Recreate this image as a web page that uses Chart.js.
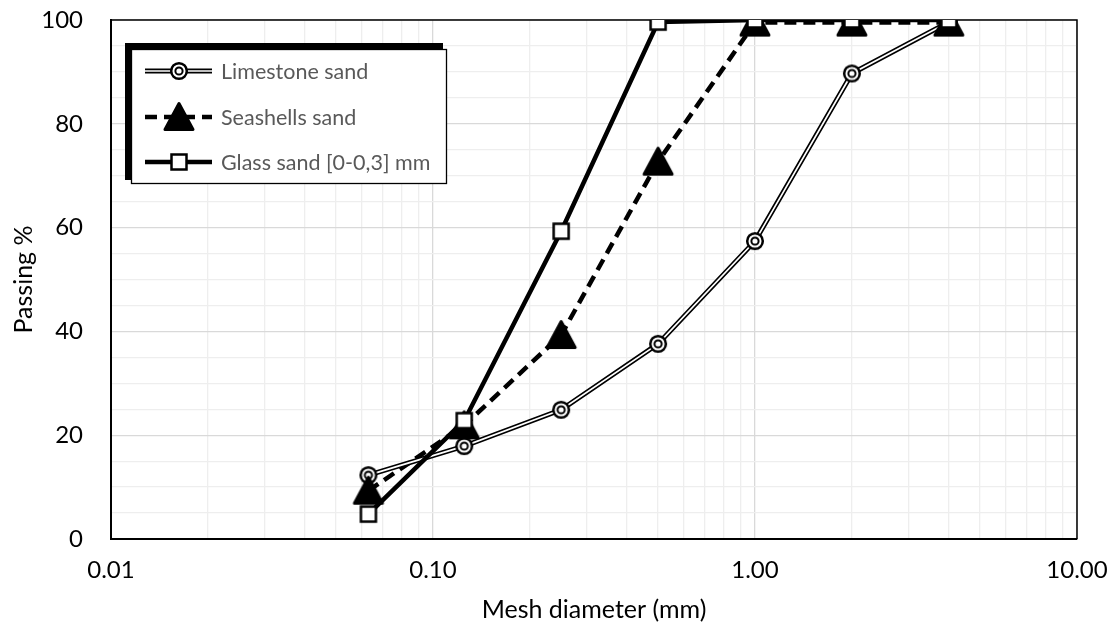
<!DOCTYPE html>
<html>
<head>
<meta charset="utf-8">
<script src="https://cdn.jsdelivr.net/npm/chart.js@4.4.1/dist/chart.umd.min.js"></script>
<style>
    html, body { margin: 0; padding: 0; background: #fff; }
    #wrap { width: 1109px; height: 635px; }
</style>
</head>
<body>
<div id="wrap"><canvas id="grading_chart"></canvas></div>
<script>
// sieve sizes (mm) and % passing
const meshSizes = [0.063, 0.125, 0.25, 0.5, 1, 2, 4];
const limestonePassing = [12.3, 17.9, 24.9, 37.6, 57.4, 89.7, 99.6];
const seashellsPassing = [9.3, 21.9, 39.3, 72.7, 99.5, 99.5, 99.5];
const glassPassing = [4.8, 22.8, 59.3, 99.6, 100, 100, 100];

const seriesNames = ['Limestone sand', 'Seashells sand', 'Glass sand [0-0,3] mm'];

const xTickValues = [0.01, 0.1, 1, 10];
const xTickLabels = ['0.01', '0.10', '1.00', '10.00'];
const yTickLabels = [0, 20, 40, 60, 80, 100];

const FONT = 'Lato';
const DASH = [12, 7];

function to_points(values) {
    var points = [];
    for (var i = 0; i < meshSizes.length; i++) {
        points.push({ x: meshSizes[i], y: values[i] });
    }
    return points;
}

// marker images, drawn once and used as pointStyle
function make_marker(kind) {
    var c = document.createElement('canvas');
    c.width = 34;
    c.height = 34;
    var ctx = c.getContext('2d');
    ctx.strokeStyle = '#000';
    ctx.fillStyle = '#fff';
    if (kind === 'ring') {
        ctx.lineWidth = 2.5;
        ctx.beginPath();
        ctx.arc(17, 17, 7.8, 0, Math.PI * 2);
        ctx.fill();
        ctx.stroke();
        ctx.lineWidth = 2;
        ctx.beginPath();
        ctx.arc(17, 17, 3.6, 0, Math.PI * 2);
        ctx.stroke();
    } else if (kind === 'triangle') {
        ctx.fillStyle = '#000';
        ctx.lineWidth = 3;
        ctx.lineJoin = 'round';
        ctx.beginPath();
        ctx.moveTo(17, 3.5);
        ctx.lineTo(31, 29.5);
        ctx.lineTo(3, 29.5);
        ctx.closePath();
        ctx.fill();
        ctx.stroke();
    } else {
        ctx.lineWidth = 2.5;
        ctx.fillRect(9.5, 9.5, 15, 15);
        ctx.strokeRect(9.5, 9.5, 15, 15);
    }
    return c;
}

const ringMarker = make_marker('ring');
const triangleMarker = make_marker('triangle');
const squareMarker = make_marker('square');

function is_major_x(value) {
    for (var i = 0; i < xTickValues.length; i++) {
        if (Math.abs(value - xTickValues[i]) / xTickValues[i] < 1e-6) return i;
    }
    return -1;
}

const plot_frame = {
    id: 'plot_frame',
    beforeDatasetsDraw(chart) {
        var a = chart.chartArea;
        var ctx = chart.ctx;
        ctx.save();
        ctx.strokeStyle = '#000';
        ctx.lineWidth = 1.5;
        ctx.beginPath();
        ctx.moveTo(a.left, a.top);
        ctx.lineTo(a.right, a.top);
        ctx.lineTo(a.right, a.bottom);
        ctx.stroke();
        ctx.restore();
    }
};

const legend_box = {
    id: 'legend_box',
    afterDraw(chart) {
        var ctx = chart.ctx;
        ctx.save();
        ctx.fillStyle = '#000';
        ctx.fillRect(125, 43, 318, 137);
        ctx.fillStyle = '#fff';
        ctx.fillRect(131, 49, 316, 135);
        ctx.strokeStyle = '#000';
        ctx.lineWidth = 1.3;
        ctx.strokeRect(131.5, 49.5, 315, 134);

        var rows = [71, 117, 162];
        var markers = [ringMarker, triangleMarker, squareMarker];
        for (var i = 0; i < rows.length; i++) {
            var y = rows[i];
            ctx.setLineDash(i === 1 ? DASH : []);
            ctx.strokeStyle = '#000';
            ctx.lineWidth = i === 0 ? 5 : 4.5;
            ctx.beginPath();
            ctx.moveTo(145, y);
            ctx.lineTo(212, y);
            ctx.stroke();
            if (i === 0) {
                ctx.strokeStyle = '#fff';
                ctx.lineWidth = 1.7;
                ctx.beginPath();
                ctx.moveTo(145, y);
                ctx.lineTo(212, y);
                ctx.stroke();
            }
            ctx.setLineDash([]);
            ctx.drawImage(markers[i], 179 - 17, y - 17);
            ctx.fillStyle = '#595959';
            ctx.font = '21.5px ' + FONT;
            ctx.textBaseline = 'middle';
            ctx.fillText(seriesNames[i], 221, y + 1);
        }
        ctx.restore();
    }
};

function create_chart() {
    const context = document.getElementById('grading_chart');
    new Chart(context, {
        type: 'line',
        data: {
            datasets: [
                // markers last series on top, as the spreadsheet draws them
                { label: seriesNames[2], data: to_points(glassPassing), showLine: false,
                  pointStyle: squareMarker, pointRadius: 9, order: 0 },
                { label: seriesNames[1], data: to_points(seashellsPassing), showLine: false,
                  pointStyle: triangleMarker, pointRadius: 15, order: 1 },
                { label: seriesNames[0], data: to_points(limestonePassing), showLine: false,
                  pointStyle: ringMarker, pointRadius: 9, order: 2 },
                { label: seriesNames[2] + ' line', data: to_points(glassPassing), borderColor: '#000',
                  borderWidth: 4.5, pointRadius: 0, order: 3 },
                { label: seriesNames[0] + ' core', data: to_points(limestonePassing), borderColor: '#fff',
                  borderWidth: 1.7, pointRadius: 0, order: 4 },
                { label: seriesNames[0] + ' line', data: to_points(limestonePassing), borderColor: '#000',
                  borderWidth: 5, pointRadius: 0, order: 5 },
                { label: seriesNames[1] + ' line', data: to_points(seashellsPassing), borderColor: '#000',
                  borderWidth: 4.5, borderDash: DASH, pointRadius: 0, order: 6 }
            ]
        },
        options: {
            responsive: true,
            maintainAspectRatio: false,
            animation: false,
            layout: { padding: { top: 20, right: 32, left: 0, bottom: 0 } },
            plugins: {
                legend: { display: false },
                tooltip: { enabled: false }
            },
            scales: {
                x: {
                    type: 'logarithmic',
                    min: 0.01,
                    max: 10,
                    afterBuildTicks: function(scale) {
                        var ticks = [];
                        for (var d = 0; d < xTickValues.length - 1; d++) {
                            for (var k = 1; k <= 9; k++) {
                                ticks.push({ value: xTickValues[d] * k });
                            }
                        }
                        ticks.push({ value: xTickValues[xTickValues.length - 1] });
                        scale.ticks = ticks;
                    },
                    afterFit: function(scale) {
                        scale.height = 96;
                        scale.paddingLeft = 0;
                        scale.paddingRight = 0;
                    },
                    grid: {
                        drawTicks: false,
                        lineWidth: 1.3,
                        color: function(c) {
                            return c.tick && is_major_x(c.tick.value) >= 0 ? '#d9d9d9' : '#eeeeee';
                        }
                    },
                    border: { color: '#000', width: 2 },
                    ticks: {
                        autoSkip: false,
                        maxRotation: 0,
                        padding: 17,
                        color: '#000',
                        font: { family: FONT, size: 24 },
                        callback: function(value) {
                            var idx = is_major_x(value);
                            return idx >= 0 ? xTickLabels[idx] : '';
                        }
                    },
                    title: {
                        display: true,
                        text: 'Mesh diameter (mm)',
                        color: '#000',
                        font: { family: FONT, size: 25 },
                        padding: { top: 0, bottom: 10 }
                    }
                },
                y: {
                    min: 0,
                    max: 100,
                    afterFit: function(scale) {
                        scale.width = 111;
                        scale.paddingTop = 0;
                        scale.paddingBottom = 0;
                    },
                    grid: {
                        drawTicks: false,
                        lineWidth: 1.3,
                        color: function(c) {
                            return c.tick && yTickLabels.indexOf(c.tick.value) >= 0 ? '#d9d9d9' : '#eeeeee';
                        }
                    },
                    border: { color: '#000', width: 2 },
                    ticks: {
                        stepSize: 5,
                        autoSkip: false,
                        padding: 28,
                        color: '#000',
                        font: { family: FONT, size: 24 },
                        callback: function(value) {
                            return yTickLabels.indexOf(value) >= 0 ? String(value) : '';
                        }
                    },
                    title: {
                        display: true,
                        text: 'Passing %',
                        color: '#000',
                        font: { family: FONT, size: 25 },
                        padding: { top: 9, bottom: 0 }
                    }
                }
            }
        },
        plugins: [plot_frame, legend_box]
    });
}

window.onload = function() {
    create_chart();
};
</script>
</body>
</html>
